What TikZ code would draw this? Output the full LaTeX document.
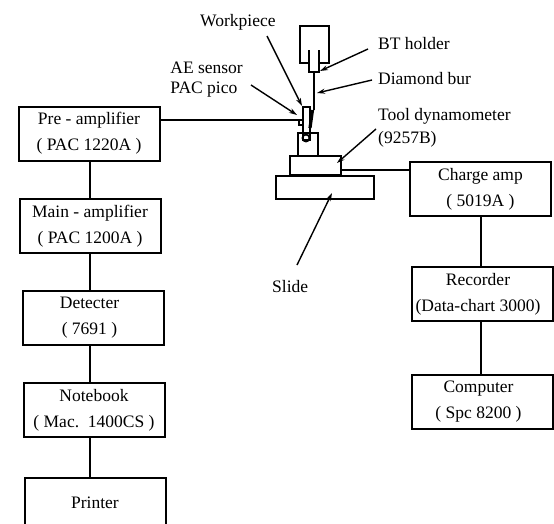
\documentclass[tikz,border=0pt]{standalone}
\usepackage{fontspec}
\setmainfont{Liberation Serif}
\usetikzlibrary{arrows.meta}

\newcommand{\nudgeleft}{\hspace*{-8pt}}

\tikzset{
  unit/.style={draw, line width=2pt, minimum width=141pt, minimum height=54pt,
    inner sep=0pt, align=center, font=\fontsize{17.5}{26}\selectfont},
  tag/.style={inner sep=0pt, align=left, font=\fontsize{17.5}{23}\selectfont},
  part/.style={line width=1.8pt},
  wire/.style={line width=1.8pt},
  leader/.style={line width=1.4pt, -{Stealth[length=8pt,width=5pt]}}
}

\begin{document}
\begin{tikzpicture}[x=1pt, y=-1pt]
    \useasboundingbox (0,0) rectangle (554,523);
    \clip (0,0) rectangle (554,523);

    % Cadena de la emision acustica
    \node[unit] (pre) at (89,133.5) {Pre - amplifier\\( PAC 1220A )};
    \node[unit] (main) at (90,226) {Main - amplifier\\( PAC 1200A )};
    \node[unit] (detecter) at (93.5,318) {\nudgeleft Detecter\\\nudgeleft ( 7691 )};
    \node[unit] (notebook) at (94,410) {Notebook\\( Mac.\ \ 1400CS )};
    \node[unit] (printer) at (95,505) {\raisebox{5pt}{Printer}};

    % Cadena del dinamometro
    \node[unit] (charge) at (480.5,189) {Charge amp\\( 5019A )};
    \node[unit] (recorder) at (482,294) {\nudgeleft Recorder\\\nudgeleft (Data-chart 3000)};
    \node[unit] (computer) at (482.5,401.5) {\nudgeleft Computer\\\nudgeleft ( Spc 8200 )};

    % Portaherramientas
    \draw[part] (309,63) -| (300,26) -| (329,63) -- (319,63);
    \draw[part] (309,50) -- (309,72) -- (319,72) -- (319,50);
    \draw[line width=2.6pt] (314,72) -- (314,110);
    \draw[line width=3.2pt] (312.5,110) -- (310,128);

    % Pieza y sensor
    \draw[part] (303,107) rectangle (310,140);
    \draw[part, fill=white] (299,120) rectangle (303,125);
    \draw[part] (306,138) circle (3.5);

    % Mesa
    \node[draw, part, minimum width=20pt, minimum height=23pt, inner sep=0pt] (fixture) at (308,144.5) {};
    \node[draw, part, minimum width=51pt, minimum height=19pt, inner sep=0pt] (dynamometer) at (315.5,165.5) {};
    \node[draw, part, minimum width=98pt, minimum height=23pt, inner sep=0pt] (slide) at (325,187.5) {};

    % Conexiones
    \coordinate (leftbus) at (90,0);
    \coordinate (rightbus) at (481,0);
    \draw[wire] (leftbus |- pre.south) -- (leftbus |- main.north);
    \draw[wire] (leftbus |- main.south) -- (leftbus |- detecter.north);
    \draw[wire] (leftbus |- detecter.south) -- (leftbus |- notebook.north);
    \draw[wire] (leftbus |- notebook.south) -- (leftbus |- printer.north);
    \draw[wire] (rightbus |- charge.south) -- (rightbus |- recorder.north);
    \draw[wire] (rightbus |- recorder.south) -- (rightbus |- computer.north);

    \coordinate (sensorwire) at (299,120);
    \coordinate (dynowire) at (341,170);
    \draw[wire] (pre.east |- sensorwire) -- (sensorwire);
    \draw[wire] (dynowire) -- (charge.west |- dynowire);

    % Rotulos
    \node[tag, anchor=west] (workpiece) at (200,22) {Workpiece};
    \node[tag, anchor=east] (sensor) at (243,80) {AE sensor\\[-3pt]PAC pico};
    \node[tag, anchor=west] (holder) at (378,44) {BT holder};
    \node[tag, anchor=west] (bur) at (378,79) {Diamond bur};
    \node[tag, anchor=west] (dynotag) at (378,127.5) {Tool dynamometer\\(9257B)};
    \node[tag, anchor=west] (slidetag) at (272,287) {Slide};

    % Lineas de referencia
    \coordinate (a1) at (267,36);   \coordinate (b1) at (302,106);
    \coordinate (a2) at (251,85);   \coordinate (b2) at (297,115);
    \coordinate (a3) at (368,49);   \coordinate (b3) at (320,71);
    \coordinate (a4) at (372,80);   \coordinate (b4) at (317,93);
    \coordinate (a5) at (376,129);  \coordinate (b5) at (337,163);
    \coordinate (a6) at (297,265);  \coordinate (b6) at (332,193);
    \foreach \i in {1,...,6}
      \draw[leader] (a\i) -- (b\i);
\end{tikzpicture}
\end{document}
